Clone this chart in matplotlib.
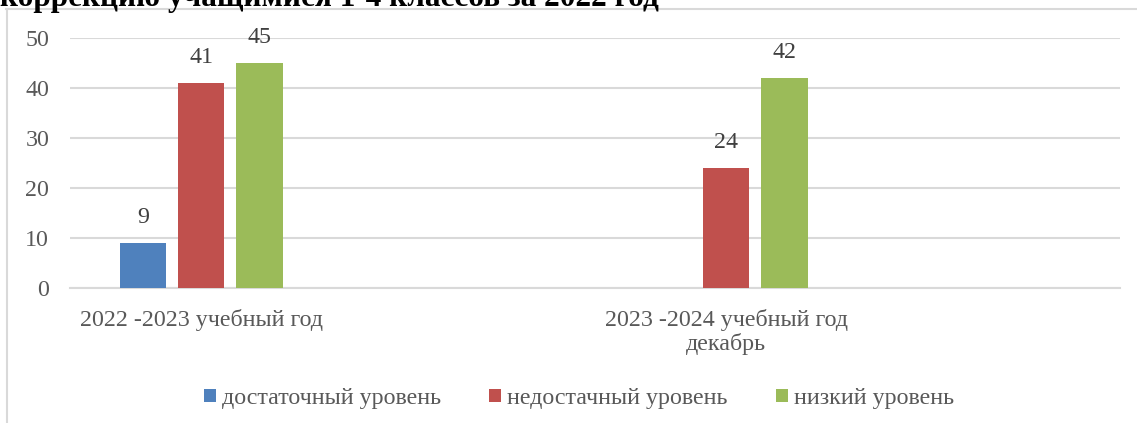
import matplotlib.pyplot as plt
import numpy as np
from matplotlib.patches import Patch
from matplotlib.lines import Line2D

plt.rcParams['font.family'] = ['Liberation Serif', 'DejaVu Serif']

categories = ["2022 -2023 учебный год", "2023 -2024 учебный год\nдекабрь"]
series_names = ["достаточный уровень", "недостачный уровень", "низкий уровень"]
values = {
    "достаточный уровень": [9, np.nan],
    "недостачный уровень": [41, 24],
    "низкий уровень": [45, 42],
}
colors = ["#4F81BD", "#C0504D", "#9BBB59"]
title = "коррекцию учащимися 1-4 классов за 2022 год"

fig = plt.figure(figsize=(11.37, 4.23), dpi=100)
ax = fig.add_axes([0.0616, 0.319, 0.9235, 0.591])

x = np.arange(len(categories))
bar_w = 0.088
step = 0.111
grey = "#595959"
fs = 17.3

for i, name in enumerate(series_names):
    vals = np.array(values[name], dtype=float)
    pos = x + (i - 1) * step
    ax.bar(pos, np.nan_to_num(vals), bar_w, color=colors[i], zorder=3)
    for p, v in zip(pos, vals):
        if not np.isnan(v):
            ax.text(p, v + 3.0, f"{v:.0f}", ha="center", va="bottom",
                    fontsize=fs, color="#404040")

ax.set_xlim(-0.25, 1.75)
ax.set_ylim(0, 50)
ax.set_yticks(range(0, 51, 10))
ax.grid(axis="y", color="#d9d9d9", linewidth=1.5, zorder=0)
ax.set_axisbelow(True)
for s in ["top", "right", "left"]:
    ax.spines[s].set_visible(False)
ax.spines["bottom"].set_color("#d9d9d9")
ax.spines["bottom"].set_linewidth(1.5)
ax.tick_params(axis="both", length=0, labelsize=fs, colors=grey)
ax.tick_params(axis="y", pad=15)
ax.tick_params(axis="x", pad=15)
ax.set_xticks(x)
ax.set_xticklabels(categories, linespacing=1.15)

handles = [Patch(facecolor=c, edgecolor="none") for c in colors]
leg = fig.legend(handles, series_names, loc="center", bbox_to_anchor=(0.509, 0.058),
                 ncol=3, frameon=False, fontsize=fs, handlelength=0.5,
                 handleheight=0.5, handletextpad=0.25, columnspacing=2.0)
for t in leg.get_texts():
    t.set_color(grey)

# chart border (top and left edges visible)
fig.add_artist(Line2D([0.005, 1.0], [1 - 9 / 423] * 2, color="#d9d9d9", lw=1.5))
fig.add_artist(Line2D([7 / 1137] * 2, [0, 1 - 9 / 423], color="#d9d9d9", lw=1.5))

fig.text(0.0, 1 - 6 / 423, title, ha="left", va="baseline", fontsize=22.5,
         fontweight="bold", color="black")

fig.savefig("out.png", dpi=100)
